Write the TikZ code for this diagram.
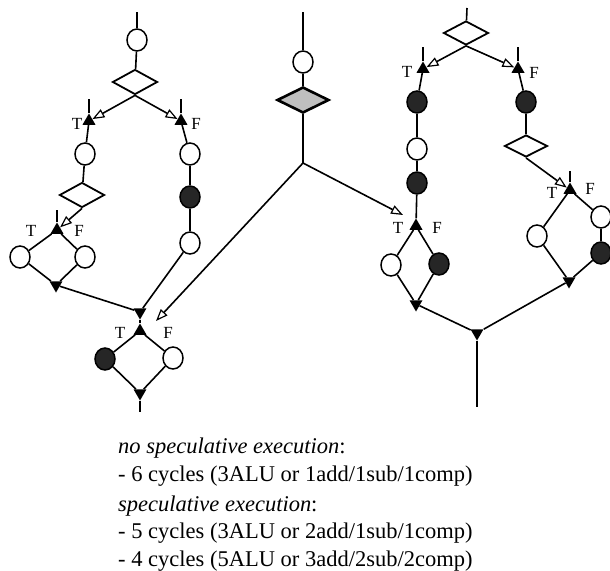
\documentclass[tikz,border=0pt]{standalone}
\usepackage{fontspec}
\setmainfont{Liberation Serif}
\usetikzlibrary{shapes.geometric,arrows.meta}
\begin{document}
\begin{tikzpicture}[x=1pt,y=-1pt,
  wire/.style={line width=1.6pt},
  opnode/.style={ellipse,draw,line width=1.5pt,fill=white,minimum width=20pt,minimum height=22pt,inner sep=0pt},
  opfill/.style={opnode,fill=black!85},
  testnode/.style={diamond,draw,line width=1.8pt,fill=white,minimum width=45pt,minimum height=25pt,inner sep=0pt},
  specnode/.style={testnode,fill=gray!50,line width=2.6pt,minimum width=52pt,minimum height=26pt},
  forkpt/.style={regular polygon,regular polygon sides=3,fill=black,minimum size=15pt,inner sep=0pt},
  mergept/.style={forkpt,shape border rotate=180},
  lbl/.style={font=\fontsize{17}{17}\selectfont,inner sep=0pt},
  flow/.style={wire,-{Triangle[open,length=12pt,width=9pt,line width=1.2pt]}},
  note/.style={anchor=base west,inner sep=0pt,font=\fontsize{22.5}{27}\selectfont},
]
\useasboundingbox (0,0) rectangle (610,570);

% ---------------- left graph ----------------
\coordinate (Ltop) at (137,12);
\node[opnode] (Lc1) at (137,40) {};
\node[testnode] (Ld1) at (135,82) {};
\node[forkpt] (LjT) at (89,121) {};
\node[forkpt] (LjF) at (181,121) {};
\coordinate (LjTs) at (89,99);
\coordinate (LjFs) at (181,99);
\node[lbl] (LtT) at (77,124) {T};
\node[lbl] (LtF) at (196,124) {F};

\node[opnode] (Lc2) at (85,154) {};
\node[testnode] (Ld2) at (82,195) {};
\node[forkpt] (LjT2) at (57,230) {};
\coordinate (LjT2s) at (57,210);
\node[lbl] (LtT2) at (31,231) {T};
\node[lbl] (LtF2) at (79,231) {F};
\node[opnode] (Lc3) at (20,257) {};
\node[opnode] (Lc4) at (85,257) {};
\node[mergept] (Lb1) at (56,285) {};

\node[opnode] (Lc5) at (190,154) {};
\node[opfill] (Lf1) at (190,197) {};
\node[opnode] (Lc6) at (190,243) {};

\node[mergept] (Lm) at (140,312) {};
\node[forkpt] (LjT3) at (140,331) {};
\node[lbl] (LtT3) at (120,333) {T};
\node[lbl] (LtF3) at (168,333) {F};
\node[opfill] (Lf2) at (105,359) {};
\node[opnode] (Lc7) at (173,358) {};
\node[mergept] (Lb2) at (140,393) {};
\coordinate (Lend) at (140,412);

\draw[wire] (Ltop) -- (Lc1);
\draw[wire] (Lc1) -- (Ld1);
\draw[flow] (Ld1.south) -- (LjT);
\draw[flow] (Ld1.south) -- (LjF);
\draw[wire] (LjT.north) -- (LjTs);
\draw[wire] (LjF.north) -- (LjFs);
\draw[wire] (LjT) -- (Lc2);
\draw[wire] (Lc2) -- (Ld2);
\draw[flow] (Ld2.south) -- (LjT2);
\draw[wire] (LjT2.north) -- (LjT2s);
\draw[wire] (LjT2) -- (Lc3);
\draw[wire] (LjT2) -- (Lc4);
\draw[wire] (Lc3) -- (Lb1);
\draw[wire] (Lc4) -- (Lb1);
\draw[wire] (LjF) -- (Lc5);
\draw[wire] (Lc5) -- (Lf1);
\draw[wire] (Lf1) -- (Lc6);
\draw[wire] (Lb1) -- (Lm);
\draw[wire] (Lc6) -- (Lm);
\draw[wire] (Lm) -- (LjT3);
\draw[wire] (LjT3) -- (Lf2);
\draw[wire] (LjT3) -- (Lc7);
\draw[wire] (Lf2) -- (Lb2);
\draw[wire] (Lc7) -- (Lb2);
\draw[wire] (Lb2) -- (Lend);

% ---------------- speculated test in the middle ----------------
\coordinate (Ctop) at (303,12);
\node[opnode] (Cc) at (303,62) {};
\node[specnode] (Cd) at (303,100) {};
\coordinate (Csplit) at (303,163);
\coordinate (La) at (156,321);
\coordinate (Ra) at (403,215);
\draw[wire] (Ctop) -- (Cc);
\draw[wire] (Cc) -- (Cd);
\draw[wire] (Cd) -- (Csplit);
\draw[flow] (Csplit) -- (La);
\draw[flow] (Csplit) -- (Ra);

% ---------------- right graph ----------------
\coordinate (Rtop) at (467,8);
\node[testnode,minimum height=24pt] (Rd1) at (466,33) {};
\node[forkpt] (RjT) at (423,69) {};
\node[forkpt] (RjF) at (518,69) {};
\coordinate (RjTs) at (423,47);
\coordinate (RjFs) at (518,47);
\node[lbl] (RtT) at (407,72) {T};
\node[lbl] (RtF) at (534,73) {F};

\node[opfill] (Rf1) at (417,102) {};
\node[opnode] (Rc1) at (417,149) {};
\node[opfill] (Rf2) at (417,183) {};
\node[forkpt] (RjT2) at (416,226) {};
\node[lbl] (RtT2) at (398,228) {T};
\node[lbl] (RtF2) at (437,228) {F};
\node[opnode] (Rc2) at (391,265) {};
\node[opfill] (Rf3) at (439,264) {};
\node[mergept] (Rb1) at (416,304) {};

\node[opfill] (Rf4) at (526,102) {};
\node[testnode,minimum width=43pt,minimum height=22pt] (Rd2) at (526,146) {};
\node[forkpt] (RjT3) at (570,190) {};
\coordinate (RjT3s) at (570,171);
\node[lbl] (RtT3) at (552,193) {T};
\node[lbl] (RtF3) at (590,189) {F};
\node[opnode] (Rc3) at (537,236) {};
\node[opnode] (Rc4) at (601,217) {};
\node[opfill] (Rf5) at (601,253) {};
\node[mergept] (Rb2) at (569,281) {};

\node[mergept] (Rm) at (477,333) {};
\coordinate (Rend) at (477,407);

\draw[wire] (Rtop) -- (Rd1);
\draw[flow] (Rd1.south) -- (RjT);
\draw[flow] (Rd1.south) -- (RjF);
\draw[wire] (RjT.north) -- (RjTs);
\draw[wire] (RjF.north) -- (RjFs);
\draw[wire] (RjT) -- (Rf1);
\draw[wire] (Rf1) -- (Rc1);
\draw[wire] (Rc1) -- (Rf2);
\draw[wire] (Rf2) -- (RjT2);
\draw[wire] (RjT2) -- (Rc2);
\draw[wire] (RjT2) -- (Rf3);
\draw[wire] (Rc2) -- (Rb1);
\draw[wire] (Rf3) -- (Rb1);
\draw[wire] (RjF) -- (Rf4);
\draw[wire] (Rf4) -- (Rd2);
\draw[flow] (Rd2.south) -- (RjT3);
\draw[wire] (RjT3.north) -- (RjT3s);
\draw[wire] (RjT3) -- (Rc3);
\draw[wire] (RjT3) -- (Rc4);
\draw[wire] (Rc4) -- (Rf5);
\draw[wire] (Rc3) -- (Rb2);
\draw[wire] (Rf5) -- (Rb2);
\draw[wire] (Rb1) -- (Rm);
\draw[wire] (Rb2) -- (Rm);
\draw[wire] (Rm) -- (Rend);

% ---------------- cycle counts ----------------
\node[note] (n1) at (118,453) {\itshape no speculative execution\/\upshape:};
\node[note] (n2) at (118,481) {- 6 cycles (3ALU or 1add/1sub/1comp)};
\node[note] (n3) at (118,511) {\itshape speculative execution\/\upshape:};
\node[note] (n4) at (118,538) {- 5 cycles (3ALU or 2add/1sub/1comp)};
\node[note] (n5) at (118,566) {- 4 cycles (5ALU or 3add/2sub/2comp)};
\end{tikzpicture}
\end{document}
